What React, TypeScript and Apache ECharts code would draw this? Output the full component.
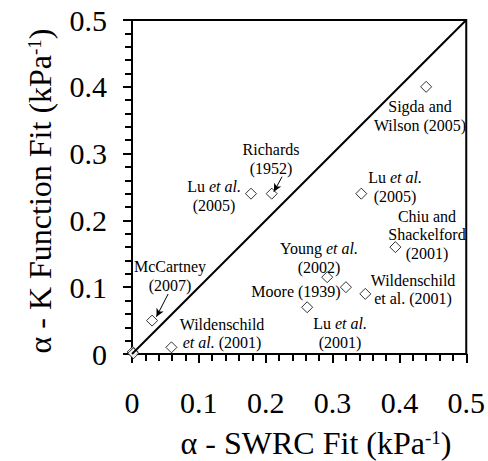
import React, { useEffect, useRef } from "react";
import * as echarts from "echarts";

const axisTicks = [0, 0.1, 0.2, 0.3, 0.4, 0.5];
const oneToOne: [number, number][] = [
  [0, 0],
  [0.5, 0.5],
];
// [SWRC fit alpha, K function fit alpha]
const studyPoints: [number, number][] = [
  [0.44, 0.4], // Sigda and Wilson (2005)
  [0.178, 0.24], // Lu et al. (2005)
  [0.209, 0.24], // Richards (1952)
  [0.343, 0.24], // Lu et al. (2005)
  [0.394, 0.16], // Chiu and Shackelford (2001)
  [0.292, 0.115], // Young et al. (2002)
  [0.32, 0.1], // Moore (1939)
  [0.349, 0.09], // Wildenschild et al. (2001)
  [0.262, 0.07], // Lu et al. (2001)
  [0.03, 0.05], // McCartney (2007)
  [0.059, 0.01], // Wildenschild et al. (2001)
  [0.001, 0.003],
  [0.002, 0.001],
];
const arrows: [number, number, number, number][] = [
  [0.2245, 0.2654, 0.2122, 0.243], // Richards
  [0.054, 0.0898, 0.0366, 0.0558], // McCartney
];
const annotations: { text: string; x: number; y: number }[] = [
  { text: "Sigda and\nWilson (2005)", x: 420, y: 116 },
  { text: "Richards\n(1952)", x: 271, y: 159 },
  { text: "Lu {i|et al.}\n(2005)", x: 214, y: 196 },
  { text: "Lu {i|et al.}\n(2005)", x: 395, y: 187 },
  { text: "Chiu and\nShackelford\n(2001)", x: 427, y: 234.5 },
  { text: "Young {i|et al.}\n(2002)", x: 319, y: 258 },
  { text: "Moore (1939)", x: 296, y: 291.5 },
  { text: "Wildenschild\net al. (2001)", x: 413, y: 289.5 },
  { text: "Lu {i|et al.}\n(2001)", x: 340, y: 333 },
  { text: "McCartney\n(2007)", x: 170, y: 276 },
  { text: "Wildenschild\n{i|et al.} (2001)", x: 222, y: 333.5 },
];

const FONT = "Liberation Serif";

export default function App() {
  const ref = useRef<HTMLDivElement>(null);
  useEffect(() => {
    if (!ref.current) return;
    const chart = echarts.init(ref.current, undefined, { renderer: "svg" });
    const axisCommon = {
      type: "value" as const,
      min: 0,
      max: 0.5,
      interval: 0.1,
      axisLine: { show: true, lineStyle: { color: "#000", width: 2 } },
      axisTick: { show: true, inside: false, length: 9, lineStyle: { color: "#000", width: 2 } },
      minorTick: { show: true, splitNumber: 5, length: 7, lineStyle: { color: "#000", width: 2 } },
      splitLine: { show: false },
      axisLabel: {
        color: "#000",
        fontFamily: FONT,
        fontSize: 30,
        formatter: (v: number) => {
          const t = axisTicks.find((a) => Math.abs(a - v) < 1e-9);
          return t === undefined ? "" : String(t);
        },
      },
    };
    const titleStyle = {
      fontFamily: FONT,
      fontSize: 32,
      fill: "#000",
      align: "center",
      verticalAlign: "middle",
      lineHeight: 30,
      rich: { s: { fontFamily: FONT, fontSize: 19, fill: "#000", verticalAlign: "top", lineHeight: 18 } },
    };
    chart.setOption({
      animation: false,
      backgroundColor: "#fff",
      textStyle: { fontFamily: FONT },
      grid: {
        left: 132,
        top: 20,
        right: 19,
        bottom: 107,
        show: true,
        borderColor: "#000",
        borderWidth: 2,
        backgroundColor: "transparent",
      },
      xAxis: { ...axisCommon, axisLabel: { ...axisCommon.axisLabel, margin: 33 } },
      yAxis: { ...axisCommon, axisLabel: { ...axisCommon.axisLabel, margin: 25 } },
      series: [
        {
          type: "line",
          data: oneToOne,
          symbol: "none",
          lineStyle: { color: "#000", width: 2 },
          silent: true,
          markLine: {
            silent: true,
            symbol: ["none", "arrow"],
            symbolSize: [6, 8],
            label: { show: false },
            lineStyle: { color: "#000", width: 1, type: "solid" },
            data: arrows.map(([x1, y1, x2, y2]) => [{ coord: [x1, y1] }, { coord: [x2, y2] }]),
          },
        },
        {
          type: "scatter",
          data: studyPoints,
          symbol: "diamond",
          symbolSize: [11, 11],
          itemStyle: { color: "#fff", borderColor: "#000", borderWidth: 1 },
        },
      ],
      graphic: [
        ...annotations.map((a) => ({
          type: "text",
          x: a.x,
          y: a.y,
          silent: true,
          style: {
            text: a.text,
            fontFamily: FONT,
            fontSize: 16,
            fill: "#000",
            align: "center",
            verticalAlign: "middle",
            lineHeight: 18.5,
            rich: {
              i: { fontFamily: FONT, fontSize: 16, fontStyle: "italic", fill: "#000", lineHeight: 18.5 },
            },
          },
        })),
        {
          type: "text",
          x: 316,
          y: 443,
          style: { ...titleStyle, text: "α - SWRC Fit (kPa{s|-1})" },
        },
        {
          type: "text",
          x: 40,
          y: 191,
          rotation: Math.PI / 2,
          style: { ...titleStyle, text: "α - K Function Fit (kPa{s|-1})" },
        },
      ],
    });
    return () => chart.dispose();
  }, []);
  return (
    <div
      ref={ref}
      style={{ position: "fixed", left: 0, top: 0, width: 488, height: 461, background: "#fff" }}
    />
  );
}
